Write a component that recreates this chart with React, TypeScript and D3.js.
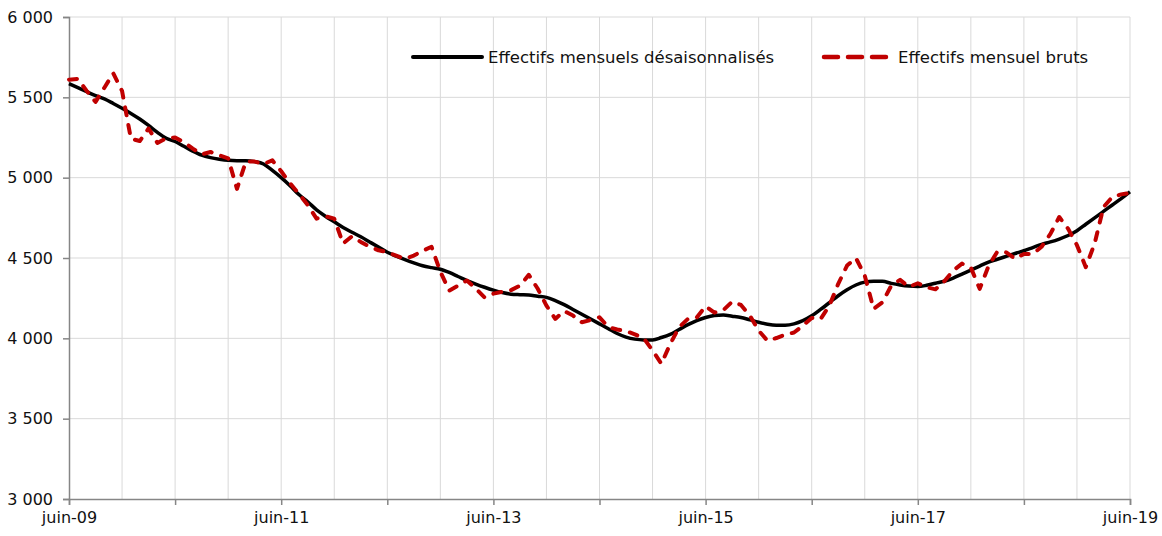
import { useEffect, useRef } from "react";
import * as d3 from "d3";

// mois depuis juin-09 (0) jusqu'à juin-19 (120)
const tickLabels = ["juin-09", "juin-11", "juin-13", "juin-15", "juin-17", "juin-19"];
const yTicks = [3000, 3500, 4000, 4500, 5000, 5500, 6000];

const desaisonnalise = [
  5585, 5560, 5535, 5510, 5490, 5462, 5432, 5400, 5365, 5325,
  5282, 5245, 5225, 5195, 5165, 5140, 5125, 5115, 5108, 5106,
  5106, 5100, 5085, 5045, 5000, 4950, 4895, 4850, 4800, 4760,
  4725, 4690, 4660, 4632, 4600, 4568, 4536, 4512, 4490, 4470,
  4452, 4440, 4430, 4410, 4385, 4360, 4338, 4318, 4300, 4285,
  4275, 4272, 4270, 4262, 4255, 4235, 4210, 4180, 4150, 4120,
  4090, 4060, 4030, 4008, 3995, 3990, 3990, 4005, 4025, 4055,
  4085, 4110, 4130, 4142, 4145, 4138, 4130, 4115, 4100, 4088,
  4082, 4082, 4090, 4110, 4140, 4180, 4222, 4265, 4302, 4332,
  4350, 4355, 4355, 4342, 4332, 4325, 4322, 4330, 4343, 4355,
  4375, 4400, 4425, 4450, 4475, 4492, 4510, 4528, 4545, 4565,
  4585, 4600, 4618, 4640, 4670, 4710, 4750, 4790, 4830, 4870,
  4912,
];

const bruts = [
  5610, 5615, 5540, 5472, 5560, 5650, 5540, 5243, 5228, 5306,
  5216, 5245, 5250, 5220, 5181, 5145, 5160, 5139, 5120, 4930,
  5100, 5100, 5085, 5108, 5040, 4965, 4900, 4830, 4745, 4760,
  4745, 4590, 4635, 4600, 4570, 4548, 4536, 4515, 4495, 4515,
  4545, 4570, 4415, 4297, 4328, 4360, 4310, 4255, 4278, 4290,
  4300, 4328, 4395, 4310, 4204, 4121, 4170, 4142, 4100, 4114,
  4131, 4070, 4055, 4045, 4025, 4000, 3925, 3842, 3965, 4069,
  4121, 4130, 4200, 4160, 4175, 4228, 4208, 4142, 4048, 3985,
  4002, 4023, 4036, 4079, 4127, 4120, 4204, 4339, 4453, 4500,
  4391, 4183, 4224, 4328, 4364, 4320, 4343, 4318, 4305, 4355,
  4422, 4465, 4440, 4308, 4450, 4540, 4535, 4495, 4525, 4525,
  4570, 4650, 4755, 4682, 4580, 4443, 4590, 4817, 4880, 4896,
  4905,
];

const series = [
  { name: "Effectifs mensuels désaisonnalisés", values: desaisonnalise },
  { name: "Effectifs mensuel bruts", values: bruts },
];

export default function App() {
  const svgRef = useRef<SVGSVGElement>(null);

  useEffect(() => {
    if (!svgRef.current) return;
    const svg = d3.select(svgRef.current);
    svg.selectAll("*").remove();

    const font = "'DejaVu Sans', Verdana, sans-serif";
    const left = 69;
    const right = 1130;
    const top = 17;
    const bottom = 499;
    const n = desaisonnalise.length - 1;

    const x = d3.scaleLinear().domain([0, n]).range([left, right]);
    const y = d3.scaleLinear().domain([3000, 6000]).range([bottom, top]);

    // grille
    const grid = svg.append("g").attr("stroke", "#d9d9d9").attr("stroke-width", 1);
    grid
      .selectAll("line.v")
      .data(d3.range(6, n + 1, 6))
      .enter()
      .append("line")
      .attr("x1", (d) => x(d))
      .attr("x2", (d) => x(d))
      .attr("y1", top)
      .attr("y2", bottom);
    grid
      .selectAll("line.h")
      .data(yTicks.slice(1))
      .enter()
      .append("line")
      .attr("x1", left)
      .attr("x2", right)
      .attr("y1", (d) => y(d))
      .attr("y2", (d) => y(d));

    // axe Y
    const yAxis = svg
      .append("g")
      .attr("transform", `translate(${left},0)`)
      .call(
        d3
          .axisLeft(y)
          .tickValues(yTicks)
          .tickSize(6)
          .tickPadding(10)
          .tickFormat((d) => d3.format(",")(d as number).replace(",", " "))
      );
    yAxis.select(".domain").attr("stroke", "#868686").attr("stroke-width", 1.5);
    yAxis.selectAll(".tick line").attr("stroke", "#868686").attr("stroke-width", 1.5);
    yAxis
      .selectAll("text")
      .attr("fill", "#111111")
      .style("font-family", font)
      .style("font-size", "16px");

    // axe X
    const xAxis = svg
      .append("g")
      .attr("transform", `translate(0,${bottom})`)
      .call(
        d3
          .axisBottom(x)
          .tickValues(d3.range(0, n + 1, 12))
          .tickSize(6)
          .tickPadding(7)
          .tickFormat((d) => {
            const i = d as number;
            return i % 24 === 0 ? tickLabels[i / 24] : "";
          })
      );
    xAxis.select(".domain").attr("stroke", "#868686").attr("stroke-width", 1.5);
    xAxis.selectAll(".tick line").attr("stroke", "#868686").attr("stroke-width", 1.5);
    xAxis
      .selectAll("text")
      .attr("fill", "#111111")
      .style("font-family", font)
      .style("font-size", "16px");

    const line = d3
      .line<number>()
      .x((_, i) => x(i))
      .y((d) => y(d))
      .curve(d3.curveMonotoneX);

    svg
      .append("path")
      .datum(series[0].values)
      .attr("fill", "none")
      .attr("stroke", "#000000")
      .attr("stroke-width", 3.5)
      .attr("stroke-linejoin", "round")
      .attr("d", line);

    svg
      .append("path")
      .datum(series[1].values)
      .attr("fill", "none")
      .attr("stroke", "#c00000")
      .attr("stroke-width", 4)
      .attr("stroke-linecap", "round")
      .attr("stroke-linejoin", "round")
      .attr("stroke-dasharray", "8 10")
      .attr("d", line.curve(d3.curveLinear));

    // légende
    const legend = [
      { x1: 413, x2: 482, tx: 488, color: "#000000", dash: null, w: 4 },
      { x1: 824, x2: 886, tx: 898, color: "#c00000", dash: "14 10", w: 4.5 },
    ];
    legend.forEach((l, i) => {
      svg
        .append("line")
        .attr("x1", l.x1)
        .attr("x2", l.x2)
        .attr("y1", 57)
        .attr("y2", 57)
        .attr("stroke", l.color)
        .attr("stroke-width", l.w)
        .attr("stroke-linecap", "round")
        .attr("stroke-dasharray", l.dash);
      svg
        .append("text")
        .attr("x", l.tx)
        .attr("y", 57)
        .attr("dy", "0.35em")
        .attr("fill", "#111111")
        .style("font-family", font)
        .style("font-size", "16.5px")
        .text(series[i].name);
    });
  }, []);

  return (
    <svg
      ref={svgRef}
      width={1162}
      height={536}
      style={{ position: "absolute", left: 0, top: 0, background: "#ffffff" }}
    />
  );
}
